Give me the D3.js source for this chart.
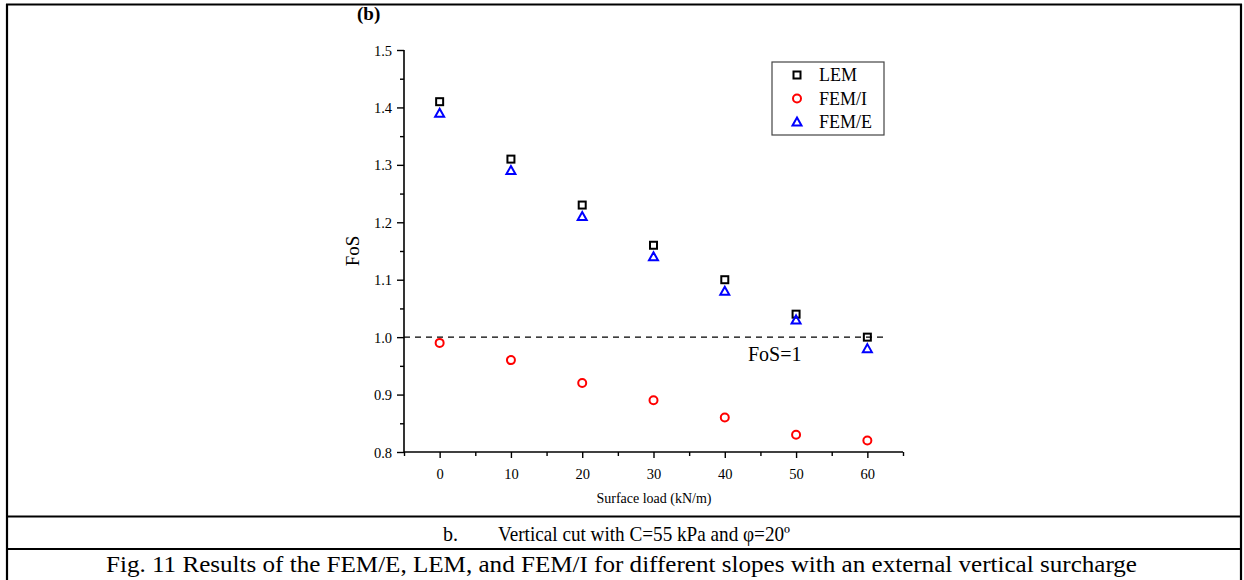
<!DOCTYPE html>
<html>
<head>
<meta charset="utf-8">
<script src="https://cdn.jsdelivr.net/npm/d3@7"></script>
<style>
  body { margin: 0; background: #fff; }
  text { font-family: "Liberation Serif", "Times New Roman", serif; }
</style>
</head>
<body>
<div id="chart"></div>
<script>
// Data
const loads = [0, 10, 20, 30, 40, 50, 60];
const lem  = [1.41, 1.31, 1.23, 1.16, 1.10, 1.04, 1.00];
const femI = [0.99, 0.96, 0.92, 0.89, 0.86, 0.83, 0.82];
const femE = [1.39, 1.29, 1.21, 1.14, 1.08, 1.03, 0.98];
const seriesNames = ["LEM", "FEM/I", "FEM/E"];
const xTicks = [0, 10, 20, 30, 40, 50, 60];
const yTicks = [0.8, 0.9, 1.0, 1.1, 1.2, 1.3, 1.4, 1.5];

const W = 1244, H = 580;

const svg = d3.select("#chart").append("svg")
    .attr("width", W)
    .attr("height", H);

// Table frame around the figure
const frame = svg.append("g").attr("stroke", "#000").attr("stroke-width", 2.2);
frame.append("line").attr("x1", 6).attr("x2", 1242).attr("y1", 4.5).attr("y2", 4.5);
frame.append("line").attr("x1", 7).attr("x2", 7).attr("y1", 4).attr("y2", H);
frame.append("line").attr("x1", 1241).attr("x2", 1241).attr("y1", 4).attr("y2", H);
frame.append("line").attr("x1", 6).attr("x2", 1242).attr("y1", 516.5).attr("y2", 516.5);
frame.append("line").attr("x1", 6).attr("x2", 1242).attr("y1", 549).attr("y2", 549);

// Scales
const x = d3.scaleLinear().domain([-5, 65]).range([404, 903]);
const y = d3.scaleLinear().domain([0.8, 1.5]).range([452, 50]);

// X axis: major every 10, minor every 5
const xAxisG = svg.append("g").attr("transform", `translate(0,${y(0.8)})`);
xAxisG.call(d3.axisBottom(x)
    .tickValues(d3.range(-5, 66, 5))
    .tickSize(4)
    .tickFormat(""));
xAxisG.call(g => g.selectAll(".tick line")
    .attr("y2", d => (d % 10 === 0 && d >= 0 && d <= 60) ? 6 : 4)
    .attr("stroke-width", 1.4));
xAxisG.select(".domain").attr("stroke-width", 1.6).attr("d", `M${x(-5)},0H${x(65)}`);
xAxisG.selectAll(".tick")
    .filter(d => xTicks.includes(d))
    .append("text")
    .attr("y", 27)
    .attr("fill", "#000")
    .attr("text-anchor", "middle")
    .style("font-size", "14.5px")
    .text(d => d);

// Y axis: major every 0.1, minor every 0.05
const yAxisG = svg.append("g").attr("transform", `translate(${x(-5)},0)`);
yAxisG.call(d3.axisLeft(y)
    .tickValues(d3.range(0, 15).map(i => 0.8 + i * 0.05))
    .tickSize(4)
    .tickFormat(""));
yAxisG.call(g => g.selectAll(".tick line")
    .attr("x2", (d, i) => i % 2 === 0 ? -7 : -4)
    .attr("stroke-width", 1.4));
yAxisG.select(".domain").attr("stroke-width", 1.6).attr("d", `M0,${y(0.8)}V${y(1.5)}`);
yAxisG.selectAll(".tick")
    .filter((d, i) => i % 2 === 0)
    .append("text")
    .attr("x", -12)
    .attr("dy", "0.35em")
    .attr("fill", "#000")
    .attr("text-anchor", "end")
    .style("font-size", "14.5px")
    .text((d, i) => yTicks[i].toFixed(1));

// Axis titles
svg.append("text")
    .attr("x", 654)
    .attr("y", 503)
    .attr("text-anchor", "middle")
    .style("font-size", "14px")
    .text("Surface load (kN/m)");

svg.append("text")
    .attr("transform", `translate(359,${y(1.15)}) rotate(-90)`)
    .attr("text-anchor", "middle")
    .style("font-size", "19px")
    .text("FoS");

svg.append("text")
    .attr("x", 357)
    .attr("y", 20)
    .style("font-size", "19px")
    .style("font-weight", "bold")
    .text("(b)");

// FoS = 1 reference line
svg.append("line")
    .attr("x1", x(-5))
    .attr("x2", x(62.5))
    .attr("y1", y(1.0))
    .attr("y2", y(1.0))
    .attr("stroke", "#000")
    .attr("stroke-width", 1.2)
    .attr("stroke-dasharray", "6,5");

svg.append("text")
    .attr("x", 748)
    .attr("y", 361)
    .style("font-size", "20px")
    .text("FoS=1");

// Marker drawing helpers
const symbols = {
    "LEM":   { color: "#000", draw: g => g.append("rect").attr("x", -3.5).attr("y", -3.5).attr("width", 7).attr("height", 7) },
    "FEM/I": { color: "#f00", draw: g => g.append("circle").attr("r", 4) },
    "FEM/E": { color: "#00f", draw: g => g.append("path").attr("d", "M0,-4.5L4.5,3.5L-4.5,3.5Z") }
};

function plotSeries(name, values) {
    const s = symbols[name];
    svg.append("g")
        .selectAll("g")
        .data(values)
        .join("g")
        .attr("transform", (d, i) => `translate(${x(loads[i])},${y(d)})`)
        .each(function () {
            s.draw(d3.select(this))
                .attr("fill", "none")
                .attr("stroke", s.color)
                .attr("stroke-width", 2);
        });
}

plotSeries("LEM", lem);
plotSeries("FEM/I", femI);
plotSeries("FEM/E", femE);

// Legend
const legend = svg.append("g").attr("transform", "translate(772,62)");
legend.append("rect")
    .attr("width", 112)
    .attr("height", 73)
    .attr("fill", "#fff")
    .attr("stroke", "#444")
    .attr("stroke-width", 1.2);

const item = legend.selectAll("g.item")
    .data(seriesNames)
    .join("g")
    .attr("class", "item")
    .attr("transform", (d, i) => `translate(25,${13 + i * 23.5})`);

item.each(function (d) {
    const s = symbols[d];
    s.draw(d3.select(this))
        .attr("fill", "none")
        .attr("stroke", s.color)
        .attr("stroke-width", 2);
});

item.append("text")
    .attr("x", 22)
    .attr("dy", "0.35em")
    .style("font-size", "18px")
    .text(d => d);

// Captions
svg.append("text")
    .attr("x", 443)
    .attr("y", 541)
    .style("font-size", "20px")
    .text("b.");

svg.append("text")
    .attr("x", 498)
    .attr("y", 541)
    .attr("textLength", 292)
    .attr("lengthAdjust", "spacingAndGlyphs")
    .style("font-size", "21px")
    .text("Vertical cut with C=55 kPa and φ=20º");

svg.append("text")
    .attr("x", 106)
    .attr("y", 572)
    .attr("textLength", 1031)
    .attr("lengthAdjust", "spacingAndGlyphs")
    .style("font-size", "23px")
    .text("Fig. 11 Results of the FEM/E, LEM, and FEM/I for different slopes with an external vertical surcharge");
</script>
</body>
</html>
